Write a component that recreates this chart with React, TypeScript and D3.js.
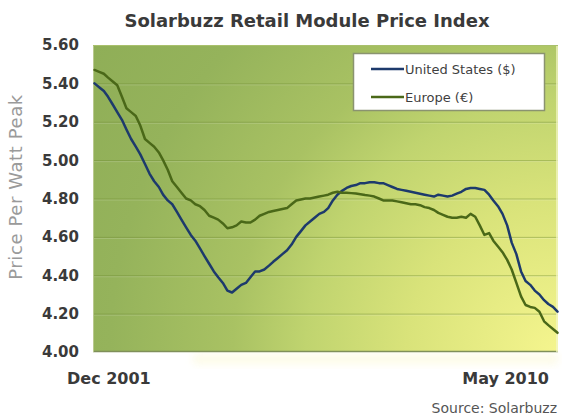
import React from "react";
import * as d3 from "d3";

const title = "Solarbuzz Retail Module Price Index";
const yAxisTitle = "Price Per Watt Peak";
const sourceText = "Source: Solarbuzz";
const yTicks = [4.0, 4.2, 4.4, 4.6, 4.8, 5.0, 5.2, 5.4, 5.6];
const xTickLabels = ["Dec 2001", "May 2010"];
const seriesNames = ["United States ($)", "Europe (€)"];

// Monthly, Dec 2001 .. May 2010
const usValues = [
  5.40, 5.38, 5.36, 5.33, 5.29, 5.25, 5.21, 5.16, 5.11, 5.07,
  5.03, 4.98, 4.93, 4.89, 4.86, 4.82, 4.79, 4.77, 4.73, 4.69,
  4.65, 4.61, 4.58, 4.54, 4.50, 4.46, 4.42, 4.39, 4.36, 4.32,
  4.31, 4.33, 4.35, 4.36, 4.39, 4.42, 4.42, 4.43, 4.45, 4.47,
  4.49, 4.51, 4.53, 4.56, 4.60, 4.63, 4.66, 4.68, 4.70, 4.72,
  4.73, 4.75, 4.79, 4.82, 4.84, 4.855, 4.865, 4.87, 4.88, 4.88,
  4.885, 4.885, 4.88, 4.88, 4.87, 4.86, 4.85, 4.845, 4.84, 4.835,
  4.83, 4.825, 4.82, 4.815, 4.81, 4.82, 4.815, 4.81, 4.815, 4.825,
  4.835, 4.85, 4.855, 4.855, 4.85, 4.845, 4.82, 4.79, 4.76, 4.72,
  4.66, 4.57, 4.51, 4.42, 4.37, 4.35, 4.32, 4.30, 4.27, 4.25,
  4.235, 4.21,
];

const euValues = [
  5.47, 5.46, 5.45, 5.43, 5.41, 5.39, 5.33, 5.27, 5.25, 5.23,
  5.18, 5.11, 5.09, 5.07, 5.04, 5.00, 4.95, 4.89, 4.86, 4.83,
  4.80, 4.79, 4.77, 4.76, 4.74, 4.71, 4.70, 4.69, 4.67, 4.645,
  4.65, 4.66, 4.68, 4.675, 4.675, 4.69, 4.71, 4.72, 4.73, 4.735,
  4.74, 4.745, 4.75, 4.77, 4.79, 4.795, 4.80, 4.80, 4.805, 4.81,
  4.815, 4.82, 4.83, 4.835, 4.83, 4.83, 4.828, 4.826, 4.822, 4.818,
  4.815, 4.81, 4.80, 4.79, 4.79, 4.79, 4.785, 4.78, 4.775, 4.77,
  4.77, 4.765, 4.755, 4.75, 4.74, 4.725, 4.715, 4.705, 4.70, 4.70,
  4.705, 4.70, 4.72, 4.705, 4.66, 4.61, 4.62, 4.58, 4.55, 4.52,
  4.48, 4.43, 4.36, 4.29, 4.245, 4.235, 4.23, 4.21, 4.16, 4.14,
  4.12, 4.10,
];

const months = d3.timeMonth.range(new Date(2001, 11, 1), new Date(2010, 5, 1));

const W = 562;
const H = 418;
const plot = { left: 93, right: 558, top: 45, bottom: 352 };

export default function App() {
  const x = d3
    .scaleTime()
    .domain([months[0], months[months.length - 1]])
    .range([plot.left + 1.5, plot.right - 0.5]);
  const y = d3.scaleLinear().domain([4.0, 5.6]).range([plot.bottom, plot.top]);

  const line = d3
    .line<number>()
    .x((_, i) => x(months[i]))
    .y((d) => y(d))
    .curve(d3.curveLinear);

  const series = [
    { name: seriesNames[0], values: usValues, color: "#1d3a6c" },
    { name: seriesNames[1], values: euValues, color: "#4a6818" },
  ];

  const font = "'DejaVu Sans', Verdana, sans-serif";

  return (
    <svg
      width={W}
      height={H}
      style={{ position: "absolute", left: 0, top: 0, background: "#fff" }}
      fontFamily={font}
    >
      <defs>
        <radialGradient
          id="bg"
          gradientUnits="userSpaceOnUse"
          cx={plot.right}
          cy={plot.bottom}
          r={560}
        >
          <stop offset="0" stopColor="#f5f58e" />
          <stop offset="0.27" stopColor="#d9e37a" />
          <stop offset="0.45" stopColor="#c0d46f" />
          <stop offset="0.58" stopColor="#a9c263" />
          <stop offset="0.8" stopColor="#95b35b" />
          <stop offset="1" stopColor="#8fae57" />
        </radialGradient>
        <filter id="blur" x="-10%" y="-50%" width="120%" height="200%">
          <feGaussianBlur stdDeviation="4" />
        </filter>
      </defs>

      {/* soft glow under plot */}
      <rect
        x={plot.left + 100}
        y={plot.bottom + 2}
        width={plot.right - plot.left - 100}
        height={10}
        fill="#fcf9dc"
        opacity={0.7}
        filter="url(#blur)"
      />

      <text
        x={307}
        y={27}
        textAnchor="middle"
        fontSize={18}
        fontWeight="bold"
        fill="#3a3a3a"
      >
        {title}
      </text>

      <rect
        x={plot.left}
        y={plot.top}
        width={plot.right - plot.left}
        height={plot.bottom - plot.top}
        fill="url(#bg)"
      />

      {yTicks.map((t) => (
        <g key={t}>
          {t > 4 && t < 5.6 && (
            <>
              <line
                x1={plot.left}
                x2={plot.right}
                y1={y(t) + 0.5}
                y2={y(t) + 0.5}
                stroke="#6d8a2e"
                strokeOpacity={0.45}
                strokeWidth={1}
              />
              <line
                x1={plot.left}
                x2={plot.right}
                y1={y(t) + 1.5}
                y2={y(t) + 1.5}
                stroke="#ffffff"
                strokeOpacity={0.18}
                strokeWidth={1}
              />
            </>
          )}
          <text
            x={79}
            y={y(t)}
            dy="0.36em"
            textAnchor="end"
            fontSize={15}
            fontWeight="bold"
            fill="#3a3a3a"
          >
            {t.toFixed(2)}
          </text>
        </g>
      ))}

      {/* plot frame */}
      <line x1={plot.left} x2={plot.right} y1={plot.bottom - 0.5} y2={plot.bottom - 0.5} stroke="#7f8f5a" strokeWidth={1.5} />
      <line x1={plot.right - 1} x2={plot.right - 1} y1={plot.top} y2={plot.bottom} stroke="#f3f6c8" strokeWidth={2} strokeOpacity={0.7} />
      <line x1={plot.left + 0.5} x2={plot.left + 0.5} y1={plot.top} y2={plot.bottom} stroke="#b9c98e" strokeWidth={1} />
      <line x1={plot.left} x2={plot.right} y1={plot.top + 0.5} y2={plot.top + 0.5} stroke="#a9c06c" strokeWidth={1} />

      {series.map((s) => (
        <path
          key={s.name}
          d={line(s.values) || ""}
          fill="none"
          stroke={s.color}
          strokeWidth={2.5}
          strokeLinejoin="round"
          strokeLinecap="round"
        />
      ))}

      {/* legend */}
      <g>
        <rect x={353.5} y={53.5} width={191} height={57} fill="#ffffff" stroke="#8a9370" strokeWidth={1.5} />
        {series.map((s, i) => (
          <g key={s.name} transform={`translate(0, ${69 + i * 28})`}>
            <line x1={371} x2={404} y1={0} y2={0} stroke={s.color} strokeWidth={2.6} />
            <text x={405} y={0} dy="0.36em" fontSize={13} fill="#3f3f3f">
              {s.name}
            </text>
          </g>
        ))}
      </g>

      <text
        transform={`translate(22, 187) rotate(-90)`}
        textAnchor="middle"
        fontSize={18}
        letterSpacing={0.6}
        fill="#9a9a9a"
      >
        {yAxisTitle}
      </text>

      <text x={67} y={384} fontSize={16} fontWeight="bold" fill="#3a3a3a">
        {xTickLabels[0]}
      </text>
      <text x={549} y={384} textAnchor="end" fontSize={16} fontWeight="bold" fill="#3a3a3a">
        {xTickLabels[1]}
      </text>

      <text x={557} y={413} textAnchor="end" fontSize={14} fill="#555555">
        {sourceText}
      </text>
    </svg>
  );
}
